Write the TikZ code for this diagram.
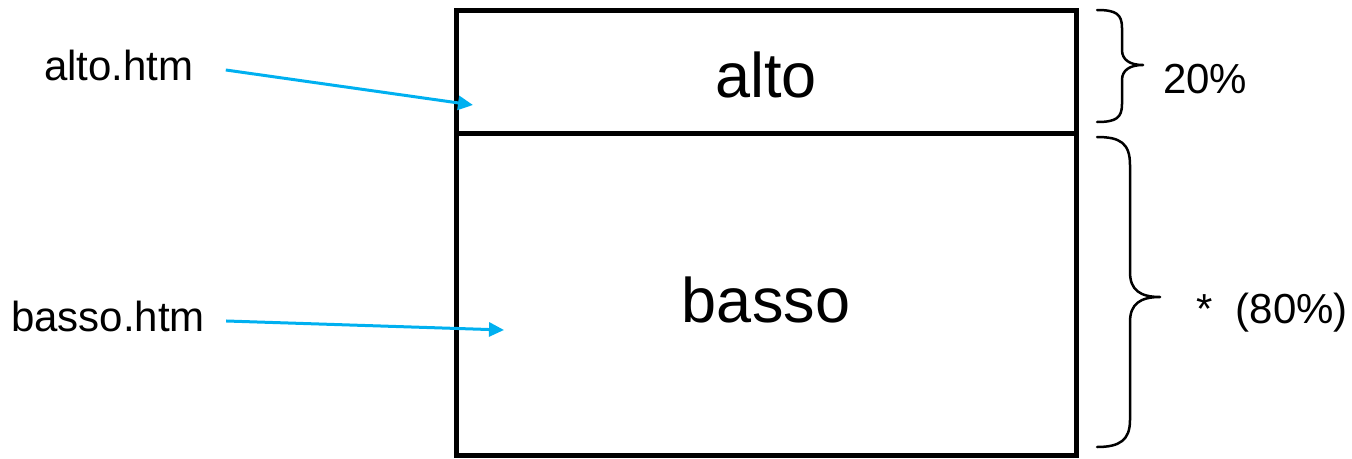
\documentclass[tikz,border=0pt]{standalone}
\usepackage{fontspec}
\setmainfont{Liberation Sans}
\usetikzlibrary{arrows.meta}
\definecolor{arrowblue}{HTML}{00B0F0}
\begin{document}
\begin{tikzpicture}[x=1pt,y=-1pt,
  frame/.style={draw=black,line width=5pt,inner sep=0pt,outer sep=0pt,anchor=north west},
  lbl/.style={inner sep=0pt,font=\fontsize{42}{50}\selectfont},
  big/.style={inner sep=0pt,font=\fontsize{63}{75}\selectfont},
  ptr/.style={draw=arrowblue,line width=3pt,-{Triangle[length=15pt,width=14pt]}},
  brace/.style={draw=black,line width=2.5pt,line cap=round,line join=round}]
\useasboundingbox (0,0) rectangle (1352,458);
% frames
\node[frame,minimum width=620pt,minimum height=123pt] (topbox) at (456,10) {};
\node[frame,minimum width=620pt,minimum height=322pt] (botbox) at (456,133) {};
\node[big,anchor=base] (altotxt) at (766,97) {alto};
\node[big,anchor=base] (bassotxt) at (766,322) {basso};
% labels and pointers
\node[lbl,anchor=base west] (altolbl) at (44,80) {alto.htm};
\node[lbl,anchor=base west] (bassolbl) at (11,331) {basso.htm};
\coordinate (altotip) at (473,105);
\coordinate (bassotip) at (504,330);
\draw[ptr] ([xshift=32pt,yshift=-5pt]altolbl.east) -- (altotip);
\draw[ptr] ([xshift=21pt,yshift=-5pt]bassolbl.east) -- (bassotip);
% braces
\draw[brace] (1097,10) .. controls (1116,10) and (1122,14) .. (1122,28) -- (1122,50)
  .. controls (1122,60) and (1130,65) .. (1143,65)
  .. controls (1130,65) and (1122,70) .. (1122,80) -- (1122,104)
  .. controls (1122,118) and (1116,122) .. (1097,122);
\draw[brace] (1097,137) .. controls (1120,137) and (1130,143) .. (1130,165) -- (1130,272)
  .. controls (1130,290) and (1140,297) .. (1160,297)
  .. controls (1140,297) and (1130,304) .. (1130,322) -- (1130,420)
  .. controls (1130,440) and (1120,447) .. (1097,447);
\node[lbl,anchor=base west] (pct20) at (1163,93) {20\%};
\node[lbl,anchor=base west] (pct80) at (1196,323) {*~~(80\%)};
\end{tikzpicture}
\end{document}
